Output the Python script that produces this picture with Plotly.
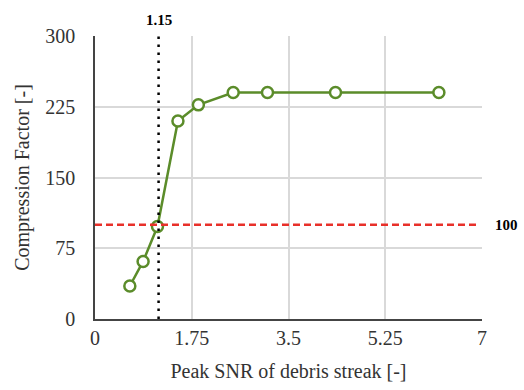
import plotly.graph_objects as go

snr = [0.63, 0.87, 1.13, 1.50, 1.87, 2.50, 3.12, 4.35, 6.22]
compression = [35, 61, 98, 210, 227, 240, 240, 240, 240]
snr_threshold = 1.15
cf_threshold = 100
x_ticks = [0, 1.75, 3.5, 5.25, 7]
x_tick_text = ["0", "1.75", "3.5", "5.25", "7"]
y_ticks = [0, 75, 150, 225, 300]

green = "#5B8C2A"
font = "Times New Roman, Liberation Serif, DejaVu Serif, serif"

fig = go.Figure()
fig.add_trace(go.Scatter(
    x=snr, y=compression, mode="lines+markers",
    line=dict(color=green, width=2.5),
    marker=dict(symbol="circle", size=11, color="white", line=dict(color=green, width=2.5)),
    showlegend=False, cliponaxis=False,
))

fig.add_shape(type="line", xref="x", yref="y", x0=0, x1=6.9, y0=cf_threshold, y1=cf_threshold,
              line=dict(color="#E8302A", width=2.5, dash="7px,4px"))
fig.add_shape(type="line", xref="x", yref="paper", x0=snr_threshold, x1=snr_threshold, y0=0, y1=1.0,
              line=dict(color="black", width=2.5, dash="2.5px,5.5px"))

fig.add_annotation(x=snr_threshold, y=1.0, xref="x", yref="paper", text="<b>1.15</b>",
                   showarrow=False, yanchor="bottom", yshift=6,
                   font=dict(family=font, size=15, color="black"))
fig.add_annotation(x=1.0, y=cf_threshold, xref="paper", yref="y", text="<b>100</b>",
                   showarrow=False, xanchor="center", xshift=24,
                   font=dict(family=font, size=15, color="black"))

fig.update_layout(
    width=524, height=390,
    margin=dict(l=95, r=42, t=36, b=71),
    plot_bgcolor="white", paper_bgcolor="white",
    font=dict(family=font, size=20, color="#333"),
)
fig.update_xaxes(
    range=[0, 7], tickvals=x_ticks, ticktext=x_tick_text,
    showgrid=True, gridcolor="#D9D9D9", gridwidth=1.5,
    showline=True, linecolor="#444", linewidth=1.5, mirror=False,
    zeroline=False, ticks="", ticklen=0, automargin=False,
    title=dict(text="Peak SNR of debris streak [-]", font=dict(family=font, size=20), standoff=16),
    tickfont=dict(family=font, size=20),
)
fig.update_yaxes(
    range=[0, 300], tickvals=y_ticks,
    showgrid=True, gridcolor="#D9D9D9", gridwidth=1.5,
    showline=True, linecolor="#444", linewidth=1.5,
    zeroline=False, ticks="", ticklabelstandoff=14, automargin=False,
    title=dict(text="Compression Factor [-]", font=dict(family=font, size=20), standoff=10),
    tickfont=dict(family=font, size=20),
)

fig.write_html("out.html")
